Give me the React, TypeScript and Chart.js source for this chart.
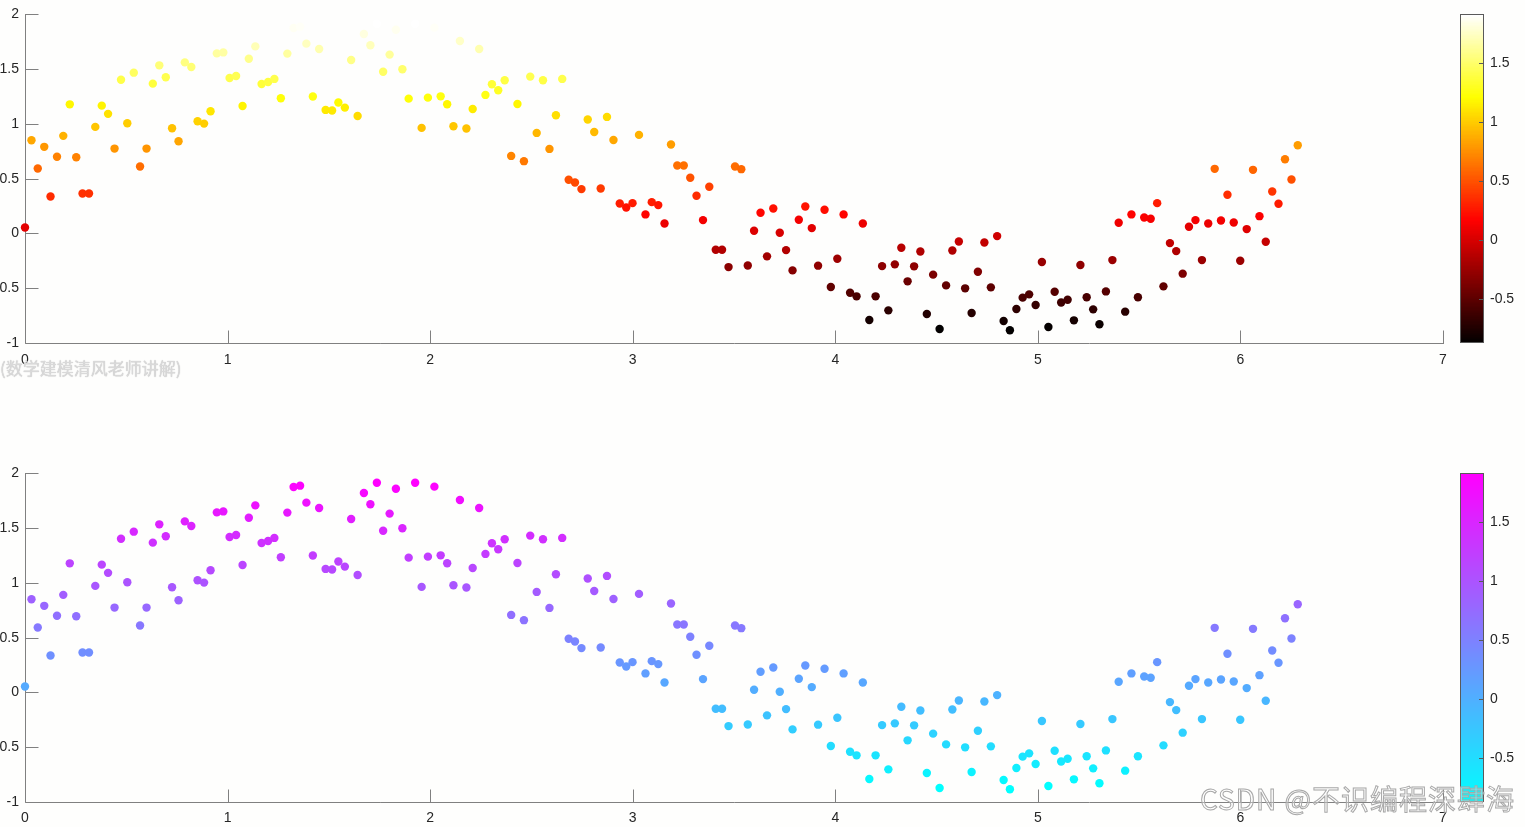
import React, { useEffect, useRef } from "react";
import { Chart, registerables } from "chart.js";

Chart.register(...registerables);

// ---- data ----
const xValues = [
  0.000, 0.032, 0.063, 0.095, 0.126, 0.158, 0.189, 0.221, 0.253, 0.284,
  0.316, 0.347, 0.379, 0.410, 0.442, 0.474, 0.505, 0.537, 0.568, 0.600,
  0.631, 0.663, 0.695, 0.726, 0.758, 0.789, 0.821, 0.852, 0.884, 0.916,
  0.947, 0.979, 1.010, 1.042, 1.074, 1.105, 1.137, 1.168, 1.200, 1.231,
  1.263, 1.295, 1.326, 1.358, 1.389, 1.421, 1.452, 1.484, 1.516, 1.547,
  1.579, 1.610, 1.642, 1.673, 1.705, 1.737, 1.768, 1.800, 1.831, 1.863,
  1.894, 1.926, 1.958, 1.989, 2.021, 2.052, 2.084, 2.115, 2.147, 2.179,
  2.210, 2.242, 2.273, 2.305, 2.336, 2.368, 2.400, 2.431, 2.463, 2.494,
  2.526, 2.557, 2.589, 2.621, 2.652, 2.684, 2.715, 2.747, 2.778, 2.810,
  2.842, 2.873, 2.905, 2.936, 2.968, 2.999, 3.031, 3.063, 3.094, 3.126,
  3.157, 3.189, 3.220, 3.252, 3.284, 3.315, 3.347, 3.378, 3.410, 3.441,
  3.473, 3.505, 3.536, 3.568, 3.599, 3.631, 3.663, 3.694, 3.726, 3.757,
  3.789, 3.820, 3.852, 3.884, 3.915, 3.947, 3.978, 4.010, 4.041, 4.073,
  4.105, 4.136, 4.168, 4.199, 4.231, 4.262, 4.294, 4.326, 4.357, 4.389,
  4.420, 4.452, 4.483, 4.515, 4.547, 4.578, 4.610, 4.641, 4.673, 4.704,
  4.736, 4.768, 4.799, 4.831, 4.862, 4.894, 4.925, 4.957, 4.989, 5.020,
  5.052, 5.083, 5.115, 5.147, 5.178, 5.210, 5.241, 5.273, 5.304, 5.336,
  5.368, 5.399, 5.431, 5.462, 5.494, 5.525, 5.557, 5.589, 5.620, 5.652,
  5.683, 5.715, 5.746, 5.778, 5.810, 5.841, 5.873, 5.904, 5.936, 5.967,
  5.999, 6.031, 6.062, 6.094, 6.125, 6.157, 6.188, 6.220, 6.252, 6.283,
];

const yValues = [
  0.055, 0.851, 0.593, 0.791, 0.338, 0.700, 0.891, 1.179, 0.696, 0.365,
  0.365, 0.973, 1.167, 1.092, 0.775, 1.404, 1.006, 1.468, 0.611, 0.775,
  1.368, 1.535, 1.426, 0.961, 0.842, 1.562, 1.520, 1.024, 1.003, 1.116,
  1.644, 1.653, 1.420, 1.438, 1.164, 1.595, 1.708, 1.365, 1.383, 1.411,
  1.234, 1.642, 1.876, 1.888, 1.733, 1.250, 1.684, 1.128, 1.122, 1.195,
  1.149, 1.584, 1.073, 1.821, 1.718, 1.915, 1.477, 1.633, 1.860, 1.499,
  1.231, 1.915, 0.964, 1.240, 1.879, 1.252, 1.180, 0.979, 1.757, 0.958,
  1.137, 1.684, 1.265, 1.362, 1.307, 1.399, 0.708, 1.182, 0.660, 1.432,
  0.918, 1.399, 0.772, 1.079, 1.411, 0.490, 0.465, 0.405, 1.040, 0.927,
  0.411, 1.064, 0.854, 0.274, 0.237, 0.277, 0.900, 0.174, 0.286, 0.259,
  0.091, 0.812, 0.620, 0.620, 0.508, 0.344, 0.122, 0.426, -0.149, -0.149,
  -0.307, 0.611, 0.587, -0.292, 0.025, 0.189, -0.209, 0.228, 0.006, -0.152,
  -0.337, 0.125, 0.246, 0.049, -0.294, 0.216, -0.489, -0.231, 0.174, -0.541,
  -0.574, 0.091, -0.790, -0.574, -0.298, -0.702, -0.282, -0.130, -0.437, -0.300,
  -0.164, -0.735, -0.376, -0.872, -0.474, -0.155, -0.073, -0.501, -0.726, -0.349,
  -0.082, -0.492, -0.024, -0.799, -0.884, -0.690, -0.586, -0.556, -0.653, -0.261,
  -0.854, -0.532, -0.630, -0.605, -0.793, -0.288, -0.583, -0.693, -0.829, -0.529,
  -0.243, 0.098, -0.714, 0.174, -0.583, 0.146, 0.134, 0.277, -0.483, -0.088,
  -0.161, -0.367, 0.061, 0.122, -0.243, 0.091, 0.590, 0.119, 0.353, 0.100,
  -0.249, 0.040, 0.581, 0.158, -0.076, 0.383, 0.271, 0.678, 0.493, 0.806,
];

const xTicks = [0, 1, 2, 3, 4, 5, 6, 7];
const yTicks = [-1, -0.5, 0, 0.5, 1, 1.5, 2];
const cbTicks = [-0.5, 0, 0.5, 1, 1.5];
const cMin = -0.87;
const cMax = 1.91;

// ---- colormaps ----
type CMap = (t: number) => string;

const norm = (v: number) => Math.max(0, Math.min(1, (v - cMin) / (cMax - cMin)));

const hot: CMap = (t) => {
  const k = Math.min(255, Math.floor(t * 256));
  const r = Math.min(1, (k + 1) / 96);
  const g = k < 96 ? 0 : Math.min(1, (k - 95) / 96);
  const b = k < 192 ? 0 : (k - 191) / 64;
  return `rgb(${Math.round(r * 255)},${Math.round(g * 255)},${Math.round(b * 255)})`;
};

const cool: CMap = (t) => {
  const k = Math.min(255, Math.floor(t * 256)) / 255;
  return `rgb(${Math.round(k * 255)},${Math.round((1 - k) * 255)},255)`;
};

const FONT = '"Liberation Sans", Arial, Helvetica, sans-serif';
const AXIS_COLOR = "#808080";
const TEXT_COLOR = "#262626";
const CANVAS_W = 1555;
const PLOT_BOTTOM = 343;

function Panel({ top, height, cmap, labelPad }: { top: number; height: number; cmap: CMap; labelPad: number }) {
  const ref = useRef<HTMLCanvasElement | null>(null);

  useEffect(() => {
    if (!ref.current) return;
    const colors = yValues.map((v) => cmap(norm(v)));

    const axesPlugin = {
      id: "matlabAxes",
      beforeDatasetsDraw(chart: any) {
        const ctx = chart.ctx;
        const a = chart.chartArea;
        const xs = chart.scales.x;
        const ys = chart.scales.y;
        const cb = chart.scales.cb;
        ctx.save();
        ctx.strokeStyle = AXIS_COLOR;
        ctx.lineWidth = 1;
        ctx.beginPath();
        const ax = Math.round(a.left) + 0.5;
        const ay = Math.round(a.bottom) + 0.5;
        ctx.moveTo(ax, Math.round(a.top));
        ctx.lineTo(ax, ay);
        ctx.lineTo(Math.round(a.right) + 1, ay);
        yTicks.forEach((v) => {
          const p = Math.round(ys.getPixelForValue(v)) + 0.5;
          ctx.moveTo(ax, p);
          ctx.lineTo(ax + 13, p);
        });
        xTicks.forEach((v) => {
          const p = Math.round(xs.getPixelForValue(v)) + 0.5;
          ctx.moveTo(p, ay);
          ctx.lineTo(p, ay - 13);
        });
        ctx.stroke();

        // colorbar
        const left = Math.round(cb.left) + 17;
        const w = 24;
        const t0 = Math.round(cb.top);
        const t1 = Math.round(cb.bottom);
        for (let py = t0; py < t1; py++) {
          const v = cb.getValueForPixel(py + 0.5);
          ctx.fillStyle = cmap(norm(v));
          ctx.fillRect(left, py, w, 1);
        }
        ctx.strokeStyle = "#5a5a5a";
        ctx.strokeRect(left + 0.5, t0 + 0.5, w - 1, t1 - t0 - 1);
        ctx.beginPath();
        cbTicks.forEach((v) => {
          const p = Math.round(cb.getPixelForValue(v)) + 0.5;
          ctx.moveTo(left + w - 1, p);
          ctx.lineTo(left + w - 5, p);
        });
        ctx.stroke();
        ctx.restore();
      },
    };

    const tickFont = { family: FONT, size: 14 };

    const chart = new Chart(ref.current, {
      type: "scatter",
      data: {
        datasets: [
          {
            data: xValues.map((x, i) => ({ x, y: yValues[i] })),
            pointBackgroundColor: colors,
            pointBorderWidth: 0,
            pointRadius: 4.2,
            pointHoverRadius: 4.2,
            clip: false as any,
          },
        ],
      },
      options: {
        animation: false,
        responsive: false,
        events: [],
        layout: { padding: { top: 14, left: 0, right: 0, bottom: 0 }, autoPadding: false },
        plugins: { legend: { display: false }, tooltip: { enabled: false } },
        scales: {
          x: {
            type: "linear",
            position: "bottom",
            min: 0,
            max: 7,
            grid: { display: false, drawTicks: false },
            border: { display: false },
            ticks: {
              padding: labelPad,
              color: TEXT_COLOR,
              font: tickFont,
              maxRotation: 0,
              autoSkip: false,
              callback: (v: any) => String(v),
            },
            afterBuildTicks: (s: any) => {
              s.ticks = xTicks.map((v) => ({ value: v }));
            },
            afterFit: (s: any) => {
              s.height = height - PLOT_BOTTOM;
            },
          },
          y: {
            type: "linear",
            position: "left",
            min: -1,
            max: 2,
            grid: { display: false, drawTicks: false },
            border: { display: false },
            ticks: {
              padding: 6,
              color: TEXT_COLOR,
              font: tickFont,
              autoSkip: false,
              callback: (v: any) => String(v),
            },
            afterBuildTicks: (s: any) => {
              s.ticks = yTicks.map((v) => ({ value: v }));
            },
            afterFit: (s: any) => {
              s.width = 55;
            },
          },
          cb: {
            type: "linear",
            position: "right",
            min: cMin,
            max: cMax,
            grid: { display: false, drawTicks: true, tickLength: 47 },
            border: { display: false },
            ticks: {
              padding: 0,
              color: TEXT_COLOR,
              font: tickFont,
              autoSkip: false,
              callback: (v: any) => String(v),
            },
            afterBuildTicks: (s: any) => {
              s.ticks = cbTicks.map((v) => ({ value: v }));
            },
            afterFit: (s: any) => {
              s.width = 82;
            },
          },
        },
      },
      plugins: [axesPlugin],
    } as any);

    return () => chart.destroy();
  }, [cmap, height, labelPad]);

  return (
    <div style={{ position: "absolute", left: -30, top, width: CANVAS_W, height }}>
      <canvas ref={ref} width={CANVAS_W} height={height} style={{ width: CANVAS_W, height, display: "block" }} />
    </div>
  );
}

export default function App() {
  return (
    <div
      style={{
        position: "fixed",
        left: 0,
        top: 0,
        width: 1525,
        height: 827,
        overflow: "hidden",
        background: "#fefefd",
      }}
    >
      <Panel top={0} height={390} cmap={hot} labelPad={9} />
      <Panel top={459} height={368} cmap={cool} labelPad={8} />
      <div
        style={{
          position: "absolute",
          left: 0,
          top: 355,
          fontFamily: '"Noto Sans CJK SC", sans-serif',
          fontSize: 17,
          color: "#d9d9d9",
          textShadow: "0 0 1px #b8b8b8",
          whiteSpace: "nowrap",
        }}
      >
        (数学建模清风老师讲解)
      </div>
      <div
        style={{
          position: "absolute",
          left: 1200,
          top: 778,
          fontFamily: '"Noto Sans CJK SC", sans-serif',
          fontSize: 28,
          color: "rgba(255,255,255,0.35)",
          WebkitTextStroke: "1px #a8a8a8",
          whiteSpace: "nowrap",
          letterSpacing: 1,
        }}
      >
        CSDN @不识编程深肆海
      </div>
    </div>
  );
}
